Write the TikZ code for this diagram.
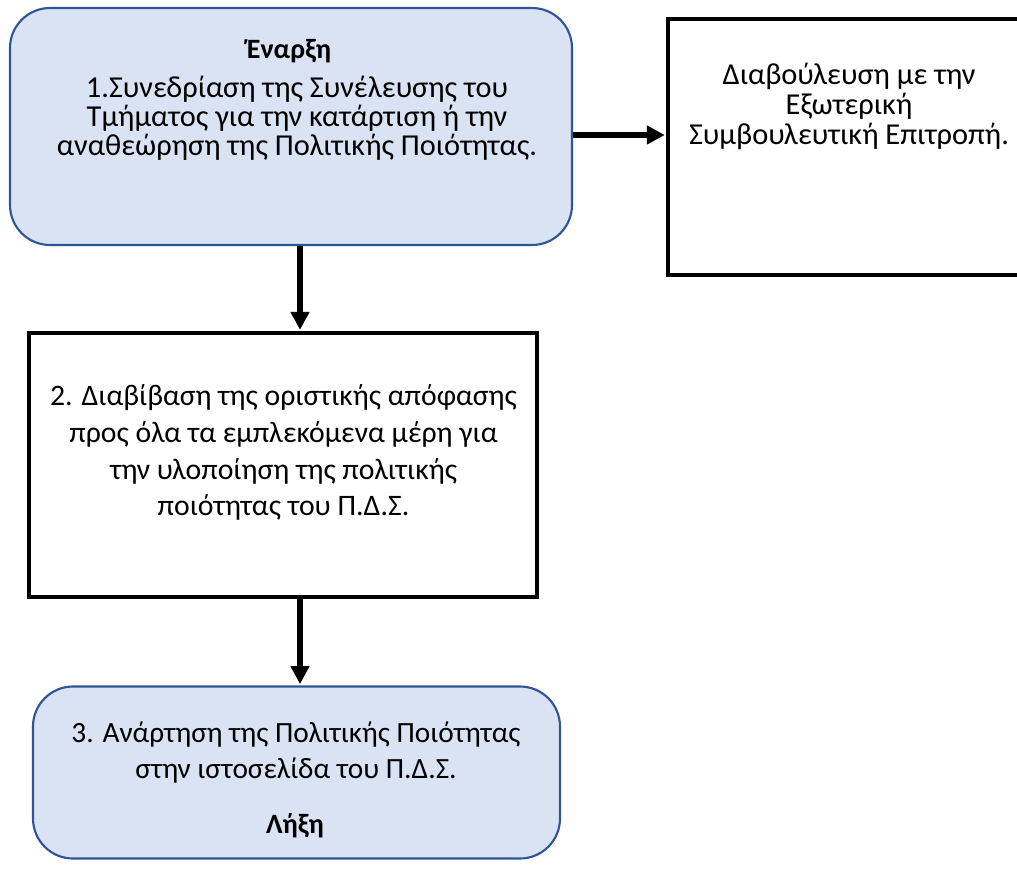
\documentclass[tikz,border=0pt]{standalone}
\usepackage{fontspec}
\setmainfont{Carlito}
\usetikzlibrary{arrows.meta,calc}
\definecolor{boxfill}{HTML}{DAE3F3}
\definecolor{boxline}{HTML}{2F5597}
\begin{document}
\begin{tikzpicture}[x=0.75pt,y=-0.75pt,
  roundbox/.style={draw=boxline,fill=boxfill,line width=1.6pt,rounded corners=30pt,inner sep=0pt},
  plainbox/.style={draw=black,line width=2.4pt,inner sep=0pt},
  txt/.style={anchor=base,inner sep=0pt,font=\fontsize{22.8pt}{26pt}\selectfont},
  txtB/.style={txt,font=\fontsize{22.3pt}{26pt}\selectfont},
  txtS/.style={txt,font=\fontsize{22pt}{26pt}\selectfont},
  txtH/.style={txt,font=\fontsize{21pt}{25pt}\selectfont\bfseries},
  arr/.style={line width=4.2pt,-{Triangle[length=13.5pt,width=13.5pt]}}]
\useasboundingbox (0,0) rectangle (1017,875);
\clip (0,0) rectangle (1017,875);
% boxes
\node[roundbox,minimum width=421.5pt,minimum height=177.75pt] (b1) at (291,126.5) {};
\node[plainbox,minimum width=271.5pt,minimum height=192pt] (rb) at (849,147) {};
\node[plainbox,minimum width=381pt,minimum height=198pt] (b2) at (283,465) {};
\node[roundbox,minimum width=395.25pt,minimum height=129pt] (b3) at (296.5,772.5) {};
% texts box 1
\node[txtH] (t1a) at (289,58) {Έναρξη};
\node[txt] (t1b) at (297,97) {1.Συνεδρίαση της Συνέλευσης του};
\node[txt] (t1c) at (297,126) {Τμήματος για την κατάρτιση ή την};
\node[txt] (t1d) at (297,155) {αναθεώρηση της Πολιτικής Ποιότητας.};
% right box
\node[txt] (r1) at (849,84) {Διαβούλευση με την};
\node[txt] (r2) at (849,114) {Εξωτερική};
\node[txt] (r3) at (849,144) {Συμβουλευτική Επιτροπή.};
% box 2
\node[txtB] (t2a) at (283.5,405) {2. Διαβίβαση της οριστικής απόφασης};
\node[txtB] (t2b) at (283.5,442) {προς όλα τα εμπλεκόμενα μέρη για};
\node[txtB] (t2c) at (283.5,479) {την υλοποίηση της πολιτικής};
\node[txtB] (t2d) at (283.5,515) {ποιότητας του Π.Δ.Σ.};
% box 3
\node[txtS] (t3a) at (296,742) {3. Ανάρτηση της Πολιτικής Ποιότητας};
\node[txtS] (t3b) at (296,778) {στην ιστοσελίδα του Π.Δ.Σ.};
\node[txtH] (t3c) at (295,833) {Λήξη};
% arrows
\draw[arr,shorten >=1.2pt] ([yshift=-6.375pt]b1.east) -- ([yshift=-6.375pt]b1.east -| rb.west);
\draw[arr,shorten >=1.2pt] ([xshift=6.75pt]b1.south) -- ([xshift=6.75pt]b1.south |- b2.north);
\draw[arr,shorten >=1pt] ([xshift=12.75pt]b2.south) -- ([xshift=12.75pt]b2.south |- b3.north);
\end{tikzpicture}
\end{document}
